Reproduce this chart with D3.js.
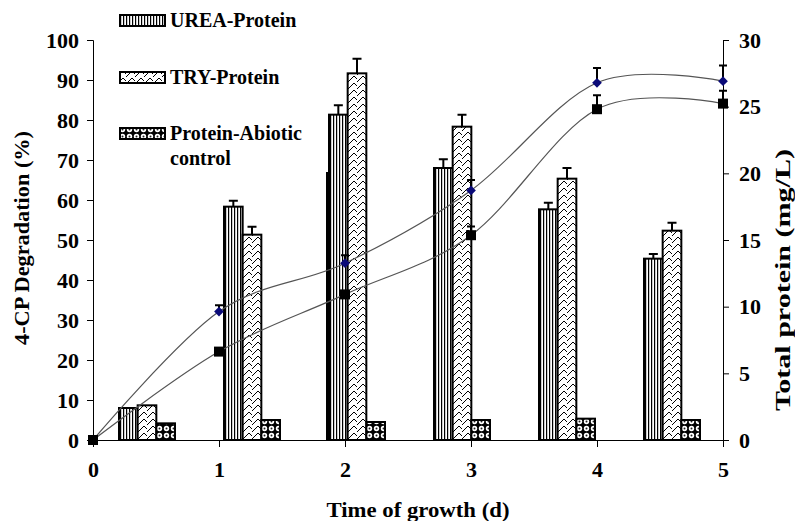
<!DOCTYPE html>
<html>
<head>
<meta charset="utf-8">
<script src="https://cdn.jsdelivr.net/npm/d3@7"></script>
<style>
  body { margin: 0; background: #fff; }
  text { font-family: "Liberation Serif", "Times New Roman", serif; font-weight: bold; }
</style>
</head>
<body>
<div id="chart"></div>
<script>
// ---- data ----
const days = [0, 1, 2, 3, 4, 5];                 // x axis ticks (d)
const groups = ["g1", "g2", "g3", "g4", "g5", "g6"]; // bar groups (one per slot)
const seriesNames = ["UREA-Protein", "TRY-Protein", "Protein-Abiotic control"];

// total protein (mg/L), right axis
const ureaProtein    = [2.4, 17.5, 24.4, 20.4, 17.3, 13.6];
const ureaErr        = [0, 0.45, 0.7, 0.65, 0.5, 0.35];
const tryProtein     = [2.6, 15.4, 27.5, 23.5, 19.6, 15.7];
const tryErr         = [0, 0.6, 1.1, 0.9, 0.8, 0.6];
const abioticProtein = [1.25, 1.5, 1.35, 1.5, 1.6, 1.5];
const abioticErr     = [0, 0, 0, 0, 0, 0];
// stray dark bar peeking out left of the 3rd group
const strayBar       = [0, 0, 20.1, 0, 0, 0];

// 4-CP degradation (%), left axis
const diamondDeg = [0, 32.1, 44.2, 62.4, 89.3, 89.7];
const diamondErr = [0, 1.6, 2.0, 2.6, 3.7, 3.9];
const squareDeg  = [0, 22.1, 36.4, 51.2, 82.7, 84.1];
const squareErr  = [0, 0.8, 0.8, 2.2, 3.5, 3.2];

const leftTicks  = d3.range(0, 101, 10);
const rightTicks = d3.range(0, 31, 5);

// ---- layout ----
const W = 795, H = 521;
const margin = { top: 40, right: 72, bottom: 81, left: 93 };
const width = W - margin.left - margin.right;
const height = H - margin.top - margin.bottom;

const svg = d3.select("#chart").append("svg")
  .attr("width", W).attr("height", H);

const defs = svg.append("defs");

// vertical stripes
const pUrea = defs.append("pattern").attr("id", "pUrea")
  .attr("patternUnits", "userSpaceOnUse").attr("width", 3).attr("height", 6);
pUrea.append("rect").attr("width", 3).attr("height", 6).attr("fill", "#fff");
pUrea.append("rect").attr("width", 1.2).attr("height", 6).attr("fill", "#000");

// zigzag
const pTry = defs.append("pattern").attr("id", "pTry")
  .attr("patternUnits", "userSpaceOnUse").attr("width", 9).attr("height", 7);
pTry.append("rect").attr("width", 9).attr("height", 7).attr("fill", "#fff");
pTry.append("path").attr("d", "M0,7 L6,1 L9,4 M-3,4 L0,7 M9,7 L15,1")
  .attr("stroke", "#000").attr("stroke-width", 1).attr("fill", "none");

// dark with white rings
const pAb = defs.append("pattern").attr("id", "pAb")
  .attr("patternUnits", "userSpaceOnUse").attr("width", 7).attr("height", 7);
pAb.append("rect").attr("width", 7).attr("height", 7).attr("fill", "#000");
pAb.append("circle").attr("cx", 3.5).attr("cy", 3.5).attr("r", 2.7).attr("fill", "#fff");
pAb.append("circle").attr("cx", 3.5).attr("cy", 3.5).attr("r", 1).attr("fill", "#222");

const fills = ["url(#pUrea)", "url(#pTry)", "url(#pAb)"];

const g = svg.append("g").attr("transform", `translate(${margin.left},${margin.top})`);

// scales
const x = d3.scaleLinear().domain([0, 5]).range([0, width]);
const yL = d3.scaleLinear().domain([0, 100]).range([height, 0]);
const yR = d3.scaleLinear().domain([0, 30]).range([height, 0]);
const x0 = d3.scaleBand().domain(groups).range([0, width]).paddingInner(0).paddingOuter(0);
const x1 = d3.scaleBand().domain(seriesNames).range([26, 82]);

// stray bar
const strayData = strayBar.map((v, i) => ({ grp: groups[i], v })).filter(d => d.v > 0);
g.selectAll(".stray").data(strayData).join("rect").attr("class", "stray")
  .attr("x", d => x0(d.grp) + x1(seriesNames[0]) - 3)
  .attr("y", d => yR(d.v))
  .attr("width", 4)
  .attr("height", d => height - yR(d.v))
  .attr("fill", "#000");

// bars
const barData = groups.map((grp, i) => ({
  grp,
  vals: [
    { s: seriesNames[0], v: ureaProtein[i], e: ureaErr[i] },
    { s: seriesNames[1], v: tryProtein[i], e: tryErr[i] },
    { s: seriesNames[2], v: abioticProtein[i], e: abioticErr[i] }
  ]
}));

const grpSel = g.selectAll(".grp").data(barData).join("g")
  .attr("class", "grp")
  .attr("transform", d => `translate(${x0(d.grp)},0)`);

// error bars (upper only)
grpSel.selectAll(".eb").data(d => d.vals.filter(v => v.e > 0)).join("path")
  .attr("class", "eb")
  .attr("d", d => {
    const cx = x1(d.s) + x1.bandwidth() / 2;
    const y0 = yR(d.v), y1 = yR(d.v + d.e);
    return `M${cx},${y0}V${y1}M${cx - 4.5},${y1}H${cx + 4.5}`;
  })
  .attr("stroke", "#000").attr("stroke-width", 2).attr("fill", "none");

grpSel.selectAll("rect").data(d => d.vals).join("rect")
  .attr("x", d => x1(d.s))
  .attr("y", d => yR(d.v))
  .attr("width", x1.bandwidth())
  .attr("height", d => height - yR(d.v))
  .attr("fill", (d, i) => fills[i])
  .attr("stroke", "#000").attr("stroke-width", 2);

// axes
const axL = g.append("g").call(d3.axisLeft(yL).tickValues(leftTicks).tickSize(6).tickFormat(d3.format("d")));
const axR = g.append("g").attr("transform", `translate(${width},0)`)
  .call(d3.axisRight(yR).tickValues(rightTicks).tickSize(6).tickFormat(d3.format("d")));
const axB = g.append("g").attr("transform", `translate(0,${height})`)
  .call(d3.axisBottom(x).tickValues(days).tickSize(7).tickFormat(d3.format("d")));

[axL, axR, axB].forEach(a => {
  a.select(".domain").attr("stroke", "#000").attr("stroke-width", 1);
  a.selectAll(".tick line").attr("stroke", "#000");
  a.selectAll("text").style("font-size", "22px").attr("fill", "#000")
    .style("font-family", '"Liberation Serif", serif').style("font-weight", "bold");
});
axL.selectAll("text").attr("x", -14);
axR.selectAll("text").attr("x", 16);
axB.selectAll("text").attr("y", 21);

// lines (smoothed)
const line = d3.line().x((d, i) => x(days[i])).y(d => yL(d)).curve(d3.curveCatmullRom.alpha(0));

[[diamondDeg, diamondErr], [squareDeg, squareErr]].forEach(([vals, errs]) => {
  g.append("path").datum(vals).attr("d", line)
    .attr("fill", "none").attr("stroke", "#555").attr("stroke-width", 1.2);
  g.selectAll(null).data(vals.map((v, i) => ({ v, e: errs[i], d: days[i] })).filter(o => o.e > 0))
    .join("path")
    .attr("d", o => {
      const cx = x(o.d), y0 = yL(o.v), y1 = yL(o.v + o.e);
      return `M${cx},${y0}V${y1}M${cx - 4},${y1}H${cx + 4}`;
    })
    .attr("stroke", "#000").attr("stroke-width", 2).attr("fill", "none");
});

// markers
g.selectAll(".dia").data(diamondDeg).join("path").attr("class", "dia")
  .attr("d", d3.symbol().type(d3.symbolDiamond2).size(60))
  .attr("transform", (d, i) => `translate(${x(days[i])},${yL(d)})`)
  .attr("fill", "#0a0a78");
g.selectAll(".sq").data(squareDeg).join("rect").attr("class", "sq")
  .attr("x", (d, i) => x(days[i]) - 5).attr("y", d => yL(d) - 5)
  .attr("width", 10).attr("height", 10).attr("fill", "#000");

// axis titles
svg.append("text")
  .attr("transform", `translate(29,238) rotate(-90)`)
  .attr("text-anchor", "middle").style("font-size", "21px")
  .attr("textLength", 214).attr("lengthAdjust", "spacingAndGlyphs")
  .text("4-CP Degradation (%)");
svg.append("text")
  .attr("transform", `translate(790,280) rotate(-90)`)
  .attr("text-anchor", "middle").style("font-size", "21px")
  .attr("textLength", 262).attr("lengthAdjust", "spacingAndGlyphs")
  .text("Total protein (mg/L)");
svg.append("text")
  .attr("x", 418).attr("y", 517)
  .attr("text-anchor", "middle").style("font-size", "21px")
  .attr("textLength", 183).attr("lengthAdjust", "spacingAndGlyphs")
  .text("Time of growth  (d)");

// legend
const legendRows = [
  { lines: ["UREA-Protein"], y: 15 },
  { lines: ["TRY-Protein"], y: 72 },
  { lines: ["Protein-Abiotic", "control"], y: 128 }
];
const leg = svg.append("g");
legendRows.forEach((r, i) => {
  leg.append("rect").attr("x", 120).attr("y", r.y).attr("width", 45).attr("height", 11)
    .attr("fill", fills[i]).attr("stroke", "#000").attr("stroke-width", 2);
  r.lines.forEach((t, j) => {
    leg.append("text").attr("x", 170).attr("y", r.y + 12 + j * 25)
      .style("font-size", "20px").text(t);
  });
});
</script>
</body>
</html>
